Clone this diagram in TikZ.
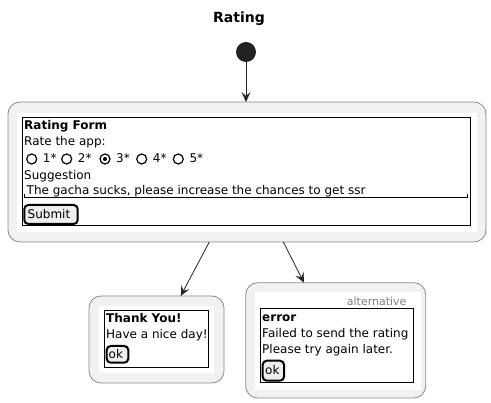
\documentclass[tikz,border=0pt]{standalone}
\usepackage{fontspec}
\setmainfont{DejaVu Sans}
\usetikzlibrary{arrows.meta}
\definecolor{boxfill}{HTML}{F1F1F1}
\definecolor{boxline}{HTML}{8A8A8A}
\definecolor{btnfill}{HTML}{EEEEEE}
\definecolor{startfill}{HTML}{222222}
\tikzset{
  statebox/.style={draw=boxline, fill=boxfill, rounded corners=12pt, line width=0.8pt},
  saltbox/.style={draw=black, fill=white, line width=1pt},
  btn/.style={draw=black, fill=btnfill, rounded corners=4pt, line width=2pt},
  txt/.style={anchor=base west, inner sep=0pt, font=\fontsize{12}{14}\selectfont},
  radio/.style={draw=black, line width=1.2pt},
  flow/.style={draw=black!85, line width=0.8pt, -{Stealth[length=10pt,width=9pt,inset=4pt]}}
}
\begin{document}
\begin{tikzpicture}[x=1pt,y=-1pt]
        \useasboundingbox (0,0) rectangle (491,403);
        \node[anchor=base, inner sep=0pt, font=\bfseries\fontsize{14}{16}\selectfont] (title) at (239,23) {Rating};
        \node[circle, fill=startfill, minimum size=20pt, inner sep=0pt] (start) at (246,52) {};
        % rating form
        \node[statebox, minimum width=478pt, minimum height=140pt] (form) at (247,172) {};
        \fill[white] (17,113) rectangle (477,232);
        \draw[saltbox] (22.5,118) rectangle (470.5,226);
        \node[txt, font=\bfseries\fontsize{12}{14}\selectfont] (formhead) at (24,129.5) {Rating Form};
        \node[txt] (rateapp) at (24,145.5) {Rate the app:};
        \foreach \cx/\lab in {31.7/1*, 66.7/2*, 105/3*, 141.7/4*, 178.3/5*} {
          \draw[radio] (\cx,159) circle (5pt);
          \node[txt] at (\cx+11,163) {\lab};
        }
        \fill[black] (105,159) circle (2pt);
        \node[txt] (suggest) at (24,180) {Suggestion};
        \node[txt] (field) at (26.5,195) {The gacha sucks, please increase the chances to get ssr};
        \draw[line width=1pt] (24,194.5) -- (24,197.5) -- (467.5,197.5) -- (467.5,194.5);
        \draw[btn] (24.3,205) rectangle (77.7,224);
        \node[txt] (submit) at (27.5,218.5) {Submit};
        % thank you
        \node[statebox, minimum width=135pt, minimum height=87pt] (thanks) at (156.5,339.5) {};
        \fill[white] (99,306) rectangle (214,373);
        \draw[saltbox] (104,311) rectangle (208.7,367.3);
        \node[txt, font=\bfseries\fontsize{12}{14}\selectfont] (thankhead) at (106,322.5) {Thank You!};
        \node[txt] (niceday) at (106,339) {Have a nice day!};
        \draw[btn] (106.7,346) rectangle (128.3,362.7);
        \node[txt] (okone) at (108.5,358.5) {ok};
        % error
        \node[statebox, minimum width=180pt, minimum height=115.3pt] (error) at (335.7,340.35) {};
        \fill[white] (255,291.7) rectangle (420.5,390);
        \node[anchor=base east, inner sep=0pt, text=gray, font=\fontsize{11}{13}\selectfont] (alt) at (406.7,306) {alternative};
        \draw[saltbox] (260,309) rectangle (413,382.5);
        \node[txt, font=\bfseries\fontsize{12}{14}\selectfont] (errhead) at (262,321.5) {error};
        \node[txt] (failed) at (262,337.5) {Failed to send the rating};
        \node[txt] (again) at (262,354) {Please try again later.};
        \draw[btn] (262.7,360.7) rectangle (284,380.7);
        \node[txt] (oktwo) at (265,375) {ok};
        % connectors
        \coordinate (formin) at (246,102);
        \coordinate (outleft) at (209.3,242);
        \coordinate (outright) at (283.3,242);
        \coordinate (thanksin) at (180.7,296);
        \coordinate (errorin) at (304,282.7);
        \draw[flow] (start) -- (formin);
        \draw[flow] (outleft) -- (thanksin);
        \draw[flow] (outright) -- (errorin);
\end{tikzpicture}
\end{document}
